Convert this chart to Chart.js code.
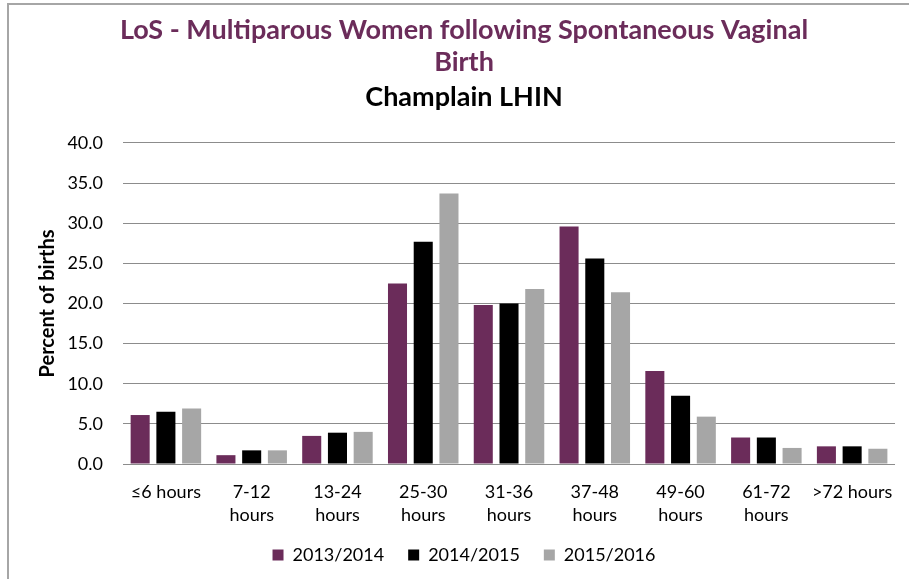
<!DOCTYPE html>
<html><head><meta charset="utf-8">
<script src="https://cdn.jsdelivr.net/npm/chart.js@4/dist/chart.umd.min.js"></script>
<style>
html,body{margin:0;padding:0;background:#fff;overflow:hidden}
#wrap{position:relative;width:909px;height:579px}
#frame{position:absolute;left:7px;top:3px;width:1000px;height:1000px;border:2px solid #a6a6a6;box-sizing:border-box;pointer-events:none}
canvas{position:absolute;left:0;top:0}
</style></head><body>
<div id="wrap"><canvas id="c" width="909" height="579"></canvas><div id="frame"></div></div>
<script>
const categories = [['≤6 hours'], ['7-12', 'hours'], ['13-24', 'hours'], ['25-30', 'hours'], ['31-36', 'hours'], ['37-48', 'hours'], ['49-60', 'hours'], ['61-72', 'hours'], ['>72 hours']];
const seriesNames = ['2013/2014', '2014/2015', '2015/2016'];
const values2013 = [6.1, 1.1, 3.5, 22.5, 19.8, 29.6, 11.6, 3.3, 2.2];
const values2014 = [6.5, 1.7, 3.9, 27.7, 20.0, 25.6, 8.5, 3.3, 2.2];
const values2015 = [6.9, 1.7, 4.0, 33.7, 21.8, 21.4, 5.9, 2.0, 1.9];
const yMin = 0, yMax = 40, yStep = 5;
const titleLines = ['LoS - Multiparous Women following Spontaneous Vaginal', 'Birth'];
const subtitleText = 'Champlain LHIN';
const yAxisTitle = 'Percent of births';

const colors = ['#6B2C5A', '#000000', '#A6A6A6'];
const FONT = 'Lato';

new Chart(document.getElementById('c'), {
  type: 'bar',
  data: {
    labels: categories,
    datasets: [values2013, values2014, values2015].map((d, i) => ({
      label: seriesNames[i],
      data: d,
      backgroundColor: colors[i],
      borderWidth: 0,
      categoryPercentage: 0.9,
      barPercentage: 0.74
    }))
  },
  options: {
    responsive: false,
    animation: false,
    layout: { padding: { left: 30, right: 11, top: 0, bottom: 5 } },
    plugins: {
      title: {
        display: true,
        text: titleLines,
        color: '#6B2C5A',
        font: { family: FONT, size: 27, weight: 'bold', lineHeight: 1.185 },
        padding: { top: 14, bottom: 3 }
      },
      subtitle: {
        display: true,
        text: subtitleText,
        color: '#000',
        font: { family: FONT, size: 27, weight: 'bold', lineHeight: 1.2 },
        padding: { top: 0, bottom: 29.5 }
      },
      legend: {
        position: 'bottom',
        labels: {
          color: '#000',
          font: { family: FONT, size: 18 },
          boxWidth: 11, boxHeight: 11,
          padding: 24
        }
      },
      tooltip: { enabled: false }
    },
    scales: {
      x: {
        grid: { display: false, drawTicks: false },
        border: { display: false },
        ticks: { color: '#000', font: { family: FONT, size: 18, lineHeight: 1.3 }, padding: 16, maxRotation: 0, autoSkip: false },
        afterFit: s => { s.height = 58; }
      },
      y: {
        min: yMin, max: yMax,
        grid: { color: '#8c8c8c', lineWidth: 1, drawTicks: false },
        border: { display: false },
        ticks: { stepSize: yStep, color: '#000', font: { family: FONT, size: 18 }, padding: 20, callback: v => Number(v).toFixed(1) },
        title: { display: true, text: yAxisTitle, color: '#000', font: { family: FONT, size: 20, weight: 'bold' }, padding: { top: 6, bottom: 0 } },
        afterFit: s => { s.width = 93; }
      }
    }
  }
});
</script>
</body></html>
